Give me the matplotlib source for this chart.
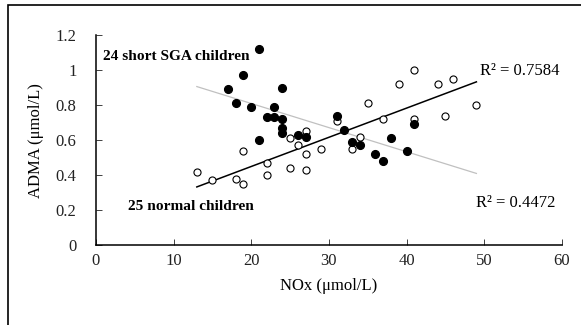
import numpy as np
import matplotlib
matplotlib.use("Agg")
import matplotlib.pyplot as plt
from matplotlib.patches import Rectangle

plt.rcParams['font.family'] = ['Liberation Serif', 'DejaVu Serif']

# short SGA children (filled)
sga_nox = [21, 19, 17, 24, 18, 20, 23, 22, 23, 24, 24, 24,
           21, 26, 27, 31, 32, 33, 34, 38, 36, 37, 40, 41]
sga_adma = [1.12, 0.97, 0.89, 0.90, 0.81, 0.79, 0.79, 0.73, 0.73, 0.72, 0.67, 0.64,
            0.60, 0.63, 0.62, 0.74, 0.66, 0.59, 0.57, 0.61, 0.52, 0.48, 0.54, 0.69]

# normal children (open)
norm_nox = [13, 15, 18, 19, 19, 22, 22, 25, 25, 26, 27, 27, 27,
            29, 31, 33, 34, 35, 37, 39, 41, 41, 44, 45, 46, 49]
norm_adma = [0.42, 0.37, 0.38, 0.35, 0.54, 0.47, 0.40, 0.44, 0.61, 0.57, 0.65, 0.52, 0.43,
             0.55, 0.71, 0.55, 0.62, 0.81, 0.72, 0.92, 1.00, 0.72, 0.92, 0.74, 0.95, 0.80]

xticks = [0, 10, 20, 30, 40, 50, 60]
yticks = [0, 0.2, 0.4, 0.6, 0.8, 1.0, 1.2]
ytick_labels = ['0', '0.2', '0.4', '0.6', '0.8', '1', '1.2']

fig = plt.figure(figsize=(5.81, 3.25), dpi=100)
ax = fig.add_axes([0.165, 0.246, 0.802, 0.646])

# trend lines over the full x range of both groups
xr = np.array([min(min(sga_nox), min(norm_nox)), max(max(sga_nox), max(norm_nox))])
k1, b1 = np.polyfit(sga_nox, sga_adma, 1)
k2, b2 = np.polyfit(norm_nox, norm_adma, 1)
ax.plot(xr, k1 * xr + b1, color='#c0c0c0', lw=0.9, zorder=1)
ax.plot(xr, k2 * xr + b2, color='black', lw=1.1, zorder=1)

ax.scatter(norm_nox, norm_adma, s=26, facecolor='white', edgecolor='black', linewidths=0.8, zorder=3)
ax.scatter(sga_nox, sga_adma, s=31, color='black', zorder=4)

ax.set_xlim(0, 60)
ax.set_ylim(0, 1.2)
ax.set_xticks(xticks)
ax.set_yticks(yticks)
ax.set_yticklabels(ytick_labels)
ax.tick_params(direction='in', length=4, width=0.6, labelsize=12, colors='#222222')
ax.tick_params(axis='x', pad=6)
ax.tick_params(axis='y', pad=14)
for s in ['top', 'right']:
    ax.spines[s].set_visible(False)
for s in ['left', 'bottom']:
    ax.spines[s].set_linewidth(1.1)

ax.set_xlabel('NOx (μmol/L)', fontsize=12, labelpad=6)
ax.set_ylabel('ADMA (μmol/L)', fontsize=12, labelpad=8)

ax.text(0.9, 1.08, '24 short SGA children', fontsize=11.1, fontweight='bold', va='center')
ax.text(4.2, 0.22, '25 normal children', fontsize=11.1, fontweight='bold', va='center')
ax.text(49.5, 0.995, 'R² = 0.7584', fontsize=12, va='center')
ax.text(49, 0.24, 'R² = 0.4472', fontsize=12, va='center')

# outer frame, cut at right and bottom like the source
fig.patches.append(Rectangle((8 / 581, -0.5), 1.5, 1.5 - 5.5 / 325, transform=fig.transFigure,
                             fill=False, edgecolor='black', lw=1.2))

fig.savefig('out.png', dpi=100)
